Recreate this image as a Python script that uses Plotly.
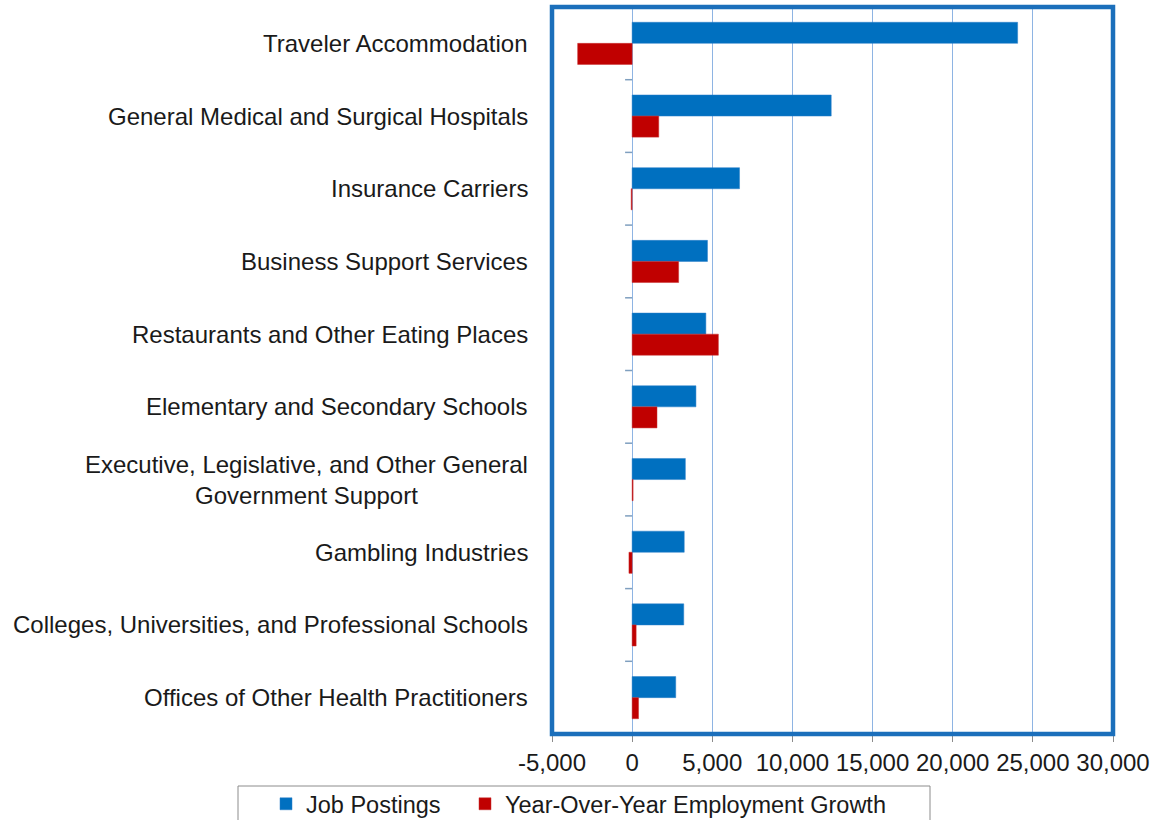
import plotly.graph_objects as go

industries = [
    "Traveler Accommodation",
    "General Medical and Surgical Hospitals",
    "Insurance Carriers",
    "Business Support Services",
    "Restaurants and Other Eating Places",
    "Elementary and Secondary Schools",
    "Executive, Legislative, and Other General<br>Government Support",
    "Gambling Industries",
    "Colleges, Universities, and Professional Schools",
    "Offices of Other Health Practitioners",
]
job_postings = [24050, 12420, 6700, 4700, 4600, 3980, 3320, 3250, 3220, 2720]
yoy_growth = [-3400, 1660, -60, 2900, 5380, 1550, 60, -200, 250, 400]

x_tickvals = [-5000, 0, 5000, 10000, 15000, 20000, 25000, 30000]
x_ticktext = ["-5,000", "0", "5,000", "10,000", "15,000", "20,000", "25,000", "30,000"]

FONT = "Liberation Sans, Arial, sans-serif"
BLUE = "#0070C0"
RED = "#C00000"

W, H = 1153, 820
L, R, T, B = 552, 40, 7, 86
PW, PH = W - L - R, H - T - B


def px_x(p):  # pixel -> paper x
    return (p - L) / PW


def px_y(p):  # pixel -> paper y
    return (H - B - p) / PH


fig = go.Figure()
fig.add_trace(go.Bar(
    y=industries, x=job_postings, orientation="h", name="Job Postings",
    marker=dict(color=BLUE, line=dict(color="#2a7fc8", width=0.5)),
    legend="legend",
))
fig.add_trace(go.Bar(
    y=industries, x=yoy_growth, orientation="h", name="Year-Over-Year Employment Growth",
    marker=dict(color=RED, line=dict(color="#c83030", width=0.5)),
    legend="legend2",
))

# category labels (right-aligned block, centered lines)
for name in industries:
    fig.add_annotation(
        x=0, xref="paper", y=name, yref="y", text=name, showarrow=False,
        xanchor="right", yanchor="middle", align="center", xshift=-22,
        font=dict(family=FONT, size=24, color="#1a1a1a"),
    )

# small tick marks at category boundaries on the zero line
for i in range(1, len(industries)):
    fig.add_shape(
        type="line", xref="x", yref="y", x0=-440, x1=0, y0=i - 0.5, y1=i - 0.5,
        line=dict(color="#7f9fbf", width=1.5), layer="above",
    )

# plot frame
fig.add_shape(
    type="rect", xref="paper", yref="paper", x0=0, x1=1, y0=0, y1=1,
    line=dict(color="#1b6fbb", width=4.5), layer="above",
)

# legend frame
fig.add_shape(
    type="rect", xref="paper", yref="paper",
    x0=px_x(238), x1=px_x(930), y0=px_y(786), y1=px_y(835),
    line=dict(color="#8c8c8c", width=1), fillcolor="white", layer="below",
)

legend_common = dict(
    orientation="h", xanchor="left", yanchor="top",
    borderwidth=0, bgcolor="rgba(0,0,0,0)",
    font=dict(family=FONT, size=23.5, color="#1a1a1a"),
)

fig.update_layout(
    width=W, height=H,
    margin=dict(l=L, r=R, t=T, b=B, autoexpand=False),
    paper_bgcolor="white", plot_bgcolor="white",
    barmode="group", bargap=0.42, bargroupgap=0,
    font=dict(family=FONT, size=24, color="#1a1a1a"),
    xaxis=dict(
        range=[-5000, 30000], tickvals=x_tickvals, ticktext=x_ticktext,
        showgrid=True, gridcolor="#8eb4e3", gridwidth=1,
        zeroline=True, zerolinecolor="#8eb4e3", zerolinewidth=1,
        ticks="outside", ticklen=7, tickcolor="#8c8c8c", tickwidth=1,
        tickfont=dict(family=FONT, size=24, color="#1a1a1a"),
        showline=False, fixedrange=True,
    ),
    yaxis=dict(
        type="category", categoryorder="array", categoryarray=industries,
        autorange="reversed", showticklabels=False, showgrid=False,
        ticks="", showline=False, zeroline=False, fixedrange=True,
    ),
    legend=dict(x=px_x(266), y=px_y(782), **legend_common),
    legend2=dict(x=px_x(465), y=px_y(782), **legend_common),
    showlegend=True,
)

fig.write_html(
    "out.html",
    config={"displayModeBar": False},
    post_script="document.body.style.margin='0px';",
)
